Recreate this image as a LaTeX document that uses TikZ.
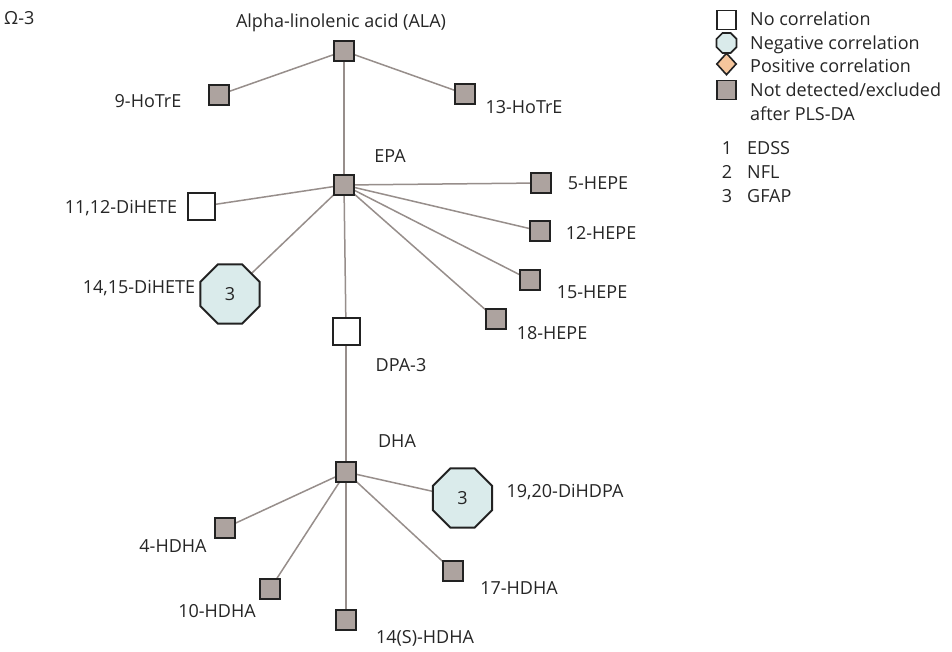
\documentclass[tikz,border=0pt]{standalone}
\usepackage{fontspec}
\setmainfont{Open Sans}
\usetikzlibrary{shapes.geometric,backgrounds}
\definecolor{nodegray}{HTML}{ADA39F}
\definecolor{nodeborder}{HTML}{222222}
\definecolor{octfill}{HTML}{DAEBEB}
\definecolor{diafill}{HTML}{F6C69C}
\definecolor{edgecol}{HTML}{978E8B}
\definecolor{txtcol}{HTML}{262626}
\tikzset{
  x=1pt, y=-1pt,
  txt/.style={font=\fontsize{18}{21}\selectfont, text=txtcol, inner sep=0pt},
  lbl/.style={txt, anchor=base},
  lblw/.style={txt, anchor=base west},
  gsq/.style={rectangle, minimum size=20pt, inner sep=0pt, fill=nodegray, draw=nodeborder, line width=2pt},
  wsq/.style={rectangle, minimum size=27pt, inner sep=0pt, fill=white, draw=nodeborder, line width=2pt},
  oct/.style={regular polygon, regular polygon sides=8, minimum size=64pt, inner sep=0pt, fill=octfill, draw=nodeborder, line width=2pt, txt},
  loct/.style={regular polygon, regular polygon sides=8, minimum size=21.6pt, inner sep=0pt, fill=octfill, draw=nodeborder, line width=1.6pt},
  ldia/.style={diamond, minimum width=20pt, minimum height=22pt, inner sep=0pt, fill=diafill, draw=nodeborder, line width=1.6pt},
  lsq/.style={rectangle, minimum size=19pt, inner sep=0pt, draw=nodeborder, line width=1.6pt},
  edge/.style={draw=edgecol, line width=1.5pt}
}
\begin{document}
\begin{tikzpicture}
\useasboundingbox (0,0) rectangle (952,652);
% title
\node[lblw] (omega) at (4,25) {Ω-3};
% nodes
\node[gsq] (ala) at (344,51) {};
\node[gsq] (hotre9) at (219,95) {};
\node[gsq] (hotre13) at (465,94) {};
\node[gsq] (epa) at (344,185) {};
\node[wsq] (dihete1112) at (201,206.5) {};
\node[gsq] (hepe5) at (541,183) {};
\node[gsq] (hepe12) at (540,231) {};
\node[gsq] (hepe15) at (530,280) {};
\node[gsq] (hepe18) at (496,319) {};
\node[oct] (dihete1415) at (230,294) {3};
\node[wsq] (dpa) at (346,331) {};
\node[gsq] (dha) at (346,472) {};
\node[oct] (dihdpa) at (462.5,498) {3};
\node[gsq] (hdha4) at (225,528) {};
\node[gsq] (hdha10) at (270,589) {};
\node[gsq] (hdha14) at (346,620) {};
\node[gsq] (hdha17) at (453,571) {};
% labels
\node[lbl] (l-ala) at (341,28) {Alpha-linolenic acid (ALA)};
\node[lbl] (l-hotre9) at (148,108) {9-HoTrE};
\node[lbl] (l-hotre13) at (524,114) {13-HoTrE};
\node[lbl] (l-epa) at (390,163) {EPA};
\node[lbl] (l-dihete1112) at (121,214) {11,12-DiHETE};
\node[lbl] (l-hepe5) at (598,190) {5-HEPE};
\node[lbl] (l-hepe12) at (601,240) {12-HEPE};
\node[lbl] (l-hepe15) at (592,298) {15-HEPE};
\node[lbl] (l-hepe18) at (552,339) {18-HEPE};
\node[lbl] (l-dihete1415) at (139,293) {14,15-DiHETE};
\node[lbl] (l-dpa) at (401,371) {DPA-3};
\node[lbl] (l-dha) at (397,447) {DHA};
\node[lbl] (l-dihdpa) at (565,497) {19,20-DiHDPA};
\node[lbl] (l-hdha4) at (173,552) {4-HDHA};
\node[lbl] (l-hdha10) at (217,617) {10-HDHA};
\node[lbl] (l-hdha14) at (425,643) {14(S)-HDHA};
\node[lbl] (l-hdha17) at (519,594) {17-HDHA};
% edges
\begin{scope}[on background layer]
\fill[white] (0,0) rectangle (952,652);
\draw[edge] (ala.center) -- (hotre9.center);
\draw[edge] (ala.center) -- (hotre13.center);
\draw[edge] (ala.center) -- (epa.center);
\draw[edge] (epa.center) -- (dihete1112.center);
\draw[edge] (epa.center) -- (hepe5.center);
\draw[edge] (epa.center) -- (hepe12.center);
\draw[edge] (epa.center) -- (hepe15.center);
\draw[edge] (epa.center) -- (hepe18.center);
\draw[edge] (epa.center) -- (dihete1415.center);
\draw[edge] (epa.center) -- (dpa.center);
\draw[edge] (dpa.center) -- (dha.center);
\draw[edge] (dha.center) -- (dihdpa.center);
\draw[edge] (dha.center) -- (hdha4.center);
\draw[edge] (dha.center) -- (hdha10.center);
\draw[edge] (dha.center) -- (hdha14.center);
\draw[edge] (dha.center) -- (hdha17.center);
\end{scope}
% legend
\node[lsq, fill=white] (leg-no) at (726.5,20) {};
\node[loct] (leg-neg) at (726.5,43) {};
\node[ldia] (leg-pos) at (726.5,64) {};
\node[lsq, fill=nodegray] (leg-nd) at (726.5,90) {};
\node[lblw] (legt-no) at (750,26) {No correlation};
\node[lblw] (legt-neg) at (750,50) {Negative correlation};
\node[lblw] (legt-pos) at (750,73) {Positive correlation};
\node[lblw] (legt-nd) at (750,97) {Not detected/excluded};
\node[lblw] (legt-nd2) at (750,121) {after PLS-DA};
\node[lbl] (legn-1) at (727,155) {1};
\node[lbl] (legn-2) at (727,179) {2};
\node[lbl] (legn-3) at (727,203) {3};
\node[lblw] (legt-1) at (747,155) {EDSS};
\node[lblw] (legt-2) at (747,179) {NFL};
\node[lblw] (legt-3) at (747,203) {GFAP};
\end{tikzpicture}
\end{document}
